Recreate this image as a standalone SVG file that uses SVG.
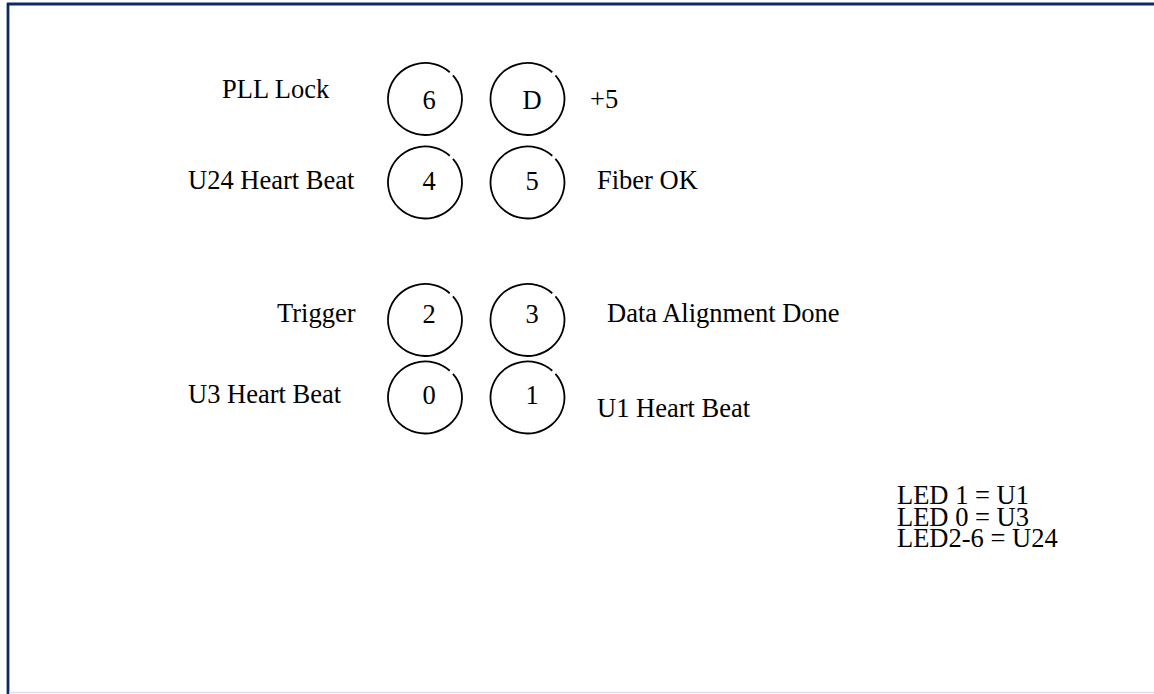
<svg xmlns="http://www.w3.org/2000/svg" width="1154" height="694" viewBox="0 0 1154 694">
<style>
text{font-family:"Liberation Serif","Times New Roman",serif;font-size:26.5px;fill:#000}
.ring{fill:none;stroke:#000;stroke-width:1.8}
.num{text-anchor:middle}
</style>
<defs>
<path id="ring" class="ring" d="M 27.92 -23.62 A 37 36 0 1 1 24.76 -26.75"/>
</defs>
<rect width="1154" height="694" fill="#fff"/>
<g id="frame">
<line x1="7" y1="4" x2="1154" y2="4" stroke="#0d2a66" stroke-width="2.8"/>
<line x1="8" y1="3" x2="8" y2="694" stroke="#0d2a66" stroke-width="2.8"/>
<line x1="9" y1="692.5" x2="1154" y2="692.5" stroke="#dedceb" stroke-width="1.5"/>
</g>
<g id="connectors"></g>
<g id="led6"><use href="#ring" x="425" y="99"/><text class="num" x="429" y="109">6</text></g>
<g id="ledD"><use href="#ring" x="527.5" y="99"/><text class="num" x="532" y="109">D</text></g>
<g id="led4"><use href="#ring" x="425" y="182.5"/><text class="num" x="429" y="190">4</text></g>
<g id="led5"><use href="#ring" x="527.5" y="182.5"/><text class="num" x="532" y="190">5</text></g>
<g id="led2"><use href="#ring" x="425" y="320"/><text class="num" x="429" y="323">2</text></g>
<g id="led3"><use href="#ring" x="527.5" y="320"/><text class="num" x="532" y="323">3</text></g>
<g id="led0"><use href="#ring" x="425" y="397.5"/><text class="num" x="429" y="404">0</text></g>
<g id="led1"><use href="#ring" x="527.5" y="397.5"/><text class="num" x="532" y="404">1</text></g>
<g id="labels">
<text x="222" y="98">PLL Lock</text>
<text x="188" y="189">U24 Heart Beat</text>
<text x="277" y="322">Trigger</text>
<text x="188" y="403">U3 Heart Beat</text>
<text x="590" y="108">+5</text>
<text x="597" y="189">Fiber OK</text>
<text x="607" y="322">Data Alignment Done</text>
<text x="597" y="417">U1 Heart Beat</text>
</g>
<g id="legend">
<text x="897" y="504">LED 1 = U1</text>
<text x="897" y="526">LED 0 = U3</text>
<text x="897" y="547">LED2-6 = U24</text>
</g>
</svg>
